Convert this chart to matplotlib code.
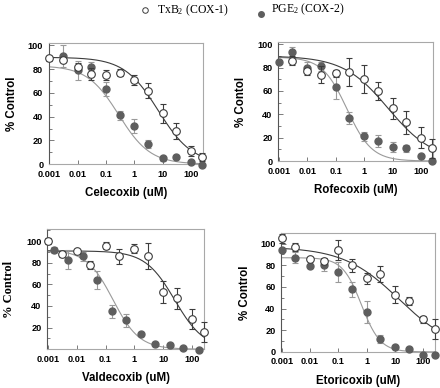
import numpy as np
import matplotlib
matplotlib.use("Agg")
import matplotlib.pyplot as plt
from matplotlib.ticker import LogLocator, NullFormatter, FixedLocator, MultipleLocator

plt.rcParams['font.family'] = ['Liberation Sans', 'DejaVu Sans']
plt.rcParams['mathtext.fontset'] = 'custom'
plt.rcParams['mathtext.rm'] = 'Liberation Serif'
plt.rcParams['mathtext.it'] = 'Liberation Serif:italic'

# --- data (concentration uM, % control, error) ---
conc = [0.001, 0.003, 0.01, 0.03, 0.1, 0.3, 1, 3, 10, 30, 100, 250]
conc_valde_cox2 = [0.0017, 0.005, 0.0167, 0.05, 0.167, 0.5, 1.67, 5, 16.7, 50, 167]

# Celecoxib
cele_cox1 = [89, 88, 82, 76, 75, 77, 71, 62, 43, 28, 11, 6]
cele_cox1_err = [2, 2, 3, 5, 4, 3, 4, 6, 8, 7, 4, 3]
cele_cox2_x = conc[1:]
cele_cox2 = [91, 79, 82, 63, 41, 32, 17, 5, 6, 2, -1]
cele_cox2_err = [9, 8, 4, 6, 4, 6, 3, 2, 2, 1, 1]

# Rofecoxib
rofe_cox1_x = conc[1:]
rofe_cox1 = [86, 77, 74, 75, 76, 70, 60, 45, 33, 20, 11]
rofe_cox1_err = [4, 3, 7, 3, 12, 12, 8, 9, 10, 9, 8]
rofe_cox2 = [85, 93, 80, 81, 63, 37, 21, 17, 12, 11, 4, 0]
rofe_cox2_err = [0, 5, 5, 4, 10, 5, 4, 5, 4, 3, 1, 0]

# Valdecoxib
valde_cox1 = [100, 88, 91, 78, 96, 86, 93, 86, 53, 47, 28, 16]
valde_cox1_err = [3, 3, 2, 4, 3, 7, 4, 12, 10, 10, 9, 9]
valde_cox2 = [92, 83, 86, 64, 35, 27, 14, 5, 4, 1, -1]
valde_cox2_err = [3, 9, 4, 8, 6, 6, 2, 2, 2, 1, 1]

# Etoricoxib
etor_cox1 = [105, 97, 86, 84, 94, 80, 68, 72, 53, 47, 30, 21]
etor_cox1_err = [4, 4, 2, 3, 9, 6, 5, 7, 8, 4, 3, 9]
etor_cox2 = [94, 87, 79, 80, 74, 58, 37, 12, 5, 3, -3, -3]
etor_cox2_err = [0, 5, 1, 5, 9, 7, 10, 4, 1, 1, 0, 0]

# four-parameter logistic fits: top, bottom, IC50, hill
cele_fit = [(90, 0, 7.0, 0.72), (83, 0, 0.28, 0.78)]
rofe_fit = [(90, 0, 7.0, 0.55), (89, 0, 0.25, 1.0)]
valde_fit = [(91, 0, 25.0, 0.85), (92, 0, 0.18, 0.95)]
etor_fit = [(97, 0, 14.0, 0.44), (87, 0, 0.65, 1.3)]

drugs = ['Celecoxib', 'Rofecoxib', 'Valdecoxib', 'Etoricoxib']
ylabels = ['% Control', '% Contol', '% Control', '% Control']

OPEN_C = '#3c3c3c'
FILL_C = '#5e5e5e'
FILL_LINE = '#9a9a9a'
FRAME = '#a8a8a8'


def logistic(x, top, bottom, ic50, hill):
    return bottom + (top - bottom) / (1 + (x / ic50) ** hill)


def panel(ax, x1, y1, e1, x2, y2, e2, fits, drug, ylab, ylim, yticks, serif_ylab=False):
    ax.set_xscale('log')
    ax.set_xlim(0.00095, 260)
    ax.set_ylim(*ylim)

    xs = np.logspace(-3, np.log10(250), 200)
    ax.plot(xs, logistic(xs, *fits[1]), color=FILL_LINE, lw=0.8, zorder=2)
    ax.plot(xs, logistic(xs, *fits[0]), color=OPEN_C, lw=0.8, zorder=2)

    ax.errorbar(x2, y2, yerr=e2, fmt='o', ms=5, mfc=FILL_C, mec=FILL_C,
                ecolor=FILL_LINE, elinewidth=0.8, capsize=2.2, capthick=0.8,
                clip_on=False, zorder=3)
    ax.errorbar(x1, y1, yerr=e1, fmt='o', ms=5.5, mfc='white', mec=OPEN_C,
                mew=0.8, ecolor=OPEN_C, elinewidth=0.8, capsize=2.2, capthick=0.8,
                clip_on=False, zorder=4)

    ax.xaxis.set_major_locator(FixedLocator([0.001, 0.01, 0.1, 1, 10, 100]))
    ax.set_xticklabels(['0.001', '0.01', '0.1', '1', '10', '100'])
    ax.xaxis.set_minor_locator(LogLocator(base=10, subs=np.arange(2, 10)))
    ax.xaxis.set_minor_formatter(NullFormatter())
    ax.yaxis.set_major_locator(FixedLocator(yticks))
    ax.yaxis.set_minor_locator(MultipleLocator(10))

    ax.tick_params(axis='both', which='both', direction='in', color='#666666',
                   labelsize=6.6, width=0.6)
    ax.tick_params(axis='x', which='major', length=3, pad=4)
    ax.tick_params(axis='x', which='minor', length=2.5)
    ax.tick_params(axis='y', which='major', length=3.5, pad=4)
    ax.tick_params(axis='y', which='minor', length=2)
    for lab in ax.get_xticklabels() + ax.get_yticklabels():
        lab.set_fontweight('bold')

    for side in ['top', 'right', 'bottom']:
        ax.spines[side].set_color(FRAME)
        ax.spines[side].set_linewidth(0.8)
    ax.spines['left'].set_color('#555555')
    ax.spines['left'].set_linewidth(0.8)

    ax.set_xlabel(drug + ' (uM)', fontsize=8.3, fontweight='bold', labelpad=6)
    if serif_ylab:
        ax.set_ylabel(ylab, fontsize=9, fontweight='bold', family='Liberation Serif', labelpad=8)
    else:
        ax.set_ylabel(ylab, fontsize=8.3, fontweight='bold', labelpad=7)


fig = plt.figure(figsize=(4.4, 3.88), dpi=100)
ax1 = fig.add_axes([0.111, 0.577, 0.350, 0.312])
ax2 = fig.add_axes([0.632, 0.585, 0.352, 0.307])
ax3 = fig.add_axes([0.107, 0.100, 0.357, 0.309])
ax4 = fig.add_axes([0.639, 0.093, 0.350, 0.307])

panel(ax1, conc, cele_cox1, cele_cox1_err, cele_cox2_x, cele_cox2, cele_cox2_err,
      cele_fit, drugs[0], ylabels[0], (0, 102), [0, 20, 40, 60, 80, 100])
panel(ax2, rofe_cox1_x, rofe_cox1, rofe_cox1_err, conc, rofe_cox2, rofe_cox2_err,
      rofe_fit, drugs[1], ylabels[1], (0, 102), [0, 20, 40, 60, 80, 100])
panel(ax3, conc, valde_cox1, valde_cox1_err, conc_valde_cox2, valde_cox2, valde_cox2_err,
      valde_fit, drugs[2], ylabels[2], (0, 111), [20, 40, 60, 80, 100], serif_ylab=True)
panel(ax4, conc, etor_cox1, etor_cox1_err, conc, etor_cox2, etor_cox2_err,
      etor_fit, drugs[3], ylabels[3], (0, 110), [0, 20, 40, 60, 80, 100])

# legend across the top
fig.lines.append(plt.Line2D([145 / 440], [1 - 10 / 388], transform=fig.transFigure,
                            marker='o', ms=4, mfc='white', mec=OPEN_C, mew=0.7, ls='none'))
fig.text(157 / 440, 1 - 10 / 388, r'TxB$_2$ (COX-1)', family='Liberation Serif',
         fontsize=8.5, va='center', ha='left')
fig.lines.append(plt.Line2D([261 / 440], [1 - 14 / 388], transform=fig.transFigure,
                            marker='o', ms=4, mfc=FILL_C, mec=FILL_C, ls='none'))
fig.text(271 / 440, 1 - 9 / 388, r'PGE$_2$ (COX-2)', family='Liberation Serif',
         fontsize=8.5, va='center', ha='left')

fig.savefig('out.png', dpi=100)
